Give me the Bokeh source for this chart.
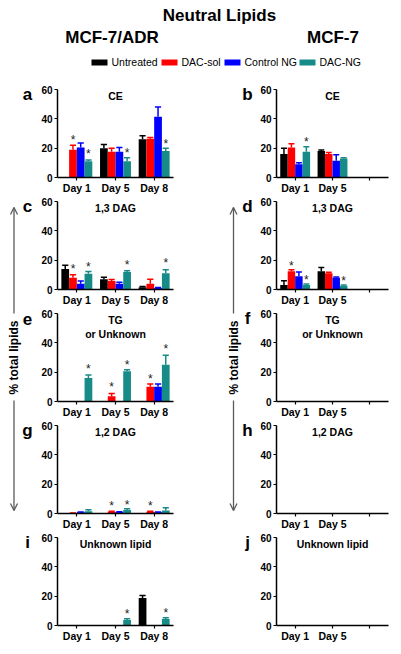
import math
from bokeh.plotting import figure
from bokeh.models import FactorRange, Range1d, FixedTicker, ColumnDataSource
from bokeh.transform import dodge
from bokeh.layouts import row, column
from bokeh.core.properties import value
from bokeh.embed import file_html
from bokeh.resources import INLINE

FONT = "Liberation Sans"

# ---------------- data ----------------
SERIES = ["Untreated", "DAC-sol", "Control NG", "DAC-NG"]
COLORS = ["#000000", "#FF0000", "#0000FF", "#178B87"]
DAYS_ADR = ["Day 1", "Day 5", "Day 8"]
DAYS_MCF7 = ["Day 1", "Day 5"]
Y_TICKS = [0, 20, 40, 60]
Y_LABEL = "% total lipids"

# rows = series (Untreated, DAC-sol, Control NG, DAC-NG), cols = days
CE_ADR_MEAN = [[0, 20, 26], [19, 17.5, 26.5], [20.5, 17.5, 41.5], [11, 11, 18]]
CE_ADR_ERR = [[0, 2.5, 2.5], [3, 2.5, 0.8], [3, 3, 6.5], [1, 2.5, 2]]
CE_ADR_STARS = [("DAC-sol", "Day 1", 30), ("DAC-NG", "Day 1", 20),
                ("DAC-NG", "Day 5", 21), ("DAC-NG", "Day 8", 27)]

CE_MCF7_MEAN = [[16, 18], [20.5, 16], [9, 11.5], [17.5, 13]]
CE_MCF7_ERR = [[4, 0.8], [2.5, 1], [1, 4], [3.5, 0.5]]
CE_MCF7_STARS = [("DAC-NG", "Day 1", 28)]

DAG13_ADR_MEAN = [[14, 7, 1.5], [8, 5.8, 4], [4, 4, 1], [10.7, 12, 11]]
DAG13_ADR_ERR = [[2.5, 1.3, 0.5], [2, 1, 3], [1.8, 1, 0.3], [1.5, 0.8, 2.5]]
DAG13_ADR_STARS = [("DAC-sol", "Day 1", 18), ("DAC-NG", "Day 1", 19.5),
                   ("DAC-NG", "Day 5", 20.5), ("DAC-NG", "Day 8", 22)]

DAG13_MCF7_MEAN = [[3, 12.5], [12.5, 11], [9, 8], [3, 2.5]]
DAG13_MCF7_ERR = [[3, 2.5], [1, 0.7], [3, 0.5], [0.8, 0.5]]
DAG13_MCF7_STARS = [("DAC-sol", "Day 1", 20), ("DAC-NG", "Day 1", 10.5),
                    ("DAC-NG", "Day 5", 10)]

TG_ADR_MEAN = [[0, 0, 0], [0, 3.6, 10], [0, 0, 10], [16, 20.6, 25]]
TG_ADR_ERR = [[0, 0, 0], [0, 1.8, 2], [0, 0, 2], [2, 1, 6.5]]
TG_ADR_STARS = [("DAC-NG", "Day 1", 26), ("DAC-sol", "Day 5", 13.8),
                ("DAC-NG", "Day 5", 29), ("DAC-sol", "Day 8", 19.5),
                ("DAC-NG", "Day 8", 40)]

TG_MCF7_MEAN = [[0, 0], [0, 0], [0, 0], [0, 0]]
TG_MCF7_ERR = [[0, 0], [0, 0], [0, 0], [0, 0]]
TG_MCF7_STARS = []

DAG12_ADR_MEAN = [[0, 0, 0], [0.3, 1.2, 1.2], [0.8, 1, 0.8], [1.5, 2.4, 2]]
DAG12_ADR_ERR = [[0, 0, 0], [0, 0.3, 0.3], [0.2, 0.2, 0.2], [1, 0.8, 2]]
DAG12_ADR_STARS = [("DAC-sol", "Day 5", 9), ("DAC-NG", "Day 5", 10),
                   ("DAC-sol", "Day 8", 9)]

DAG12_MCF7_MEAN = [[0, 0], [0, 0], [0, 0], [0, 0]]
DAG12_MCF7_ERR = [[0, 0], [0, 0], [0, 0], [0, 0]]
DAG12_MCF7_STARS = []

UNK_ADR_MEAN = [[0, 0, 18.7], [0, 0, 0], [0, 0, 0], [0, 3.8, 4.5]]
UNK_ADR_ERR = [[0, 0, 1.8], [0, 0, 0], [0, 0, 0], [0, 0.8, 0.8]]
UNK_ADR_STARS = [("DAC-NG", "Day 5", 12), ("DAC-NG", "Day 8", 12.5)]

UNK_MCF7_MEAN = [[0, 0], [0, 0], [0, 0], [0, 0]]
UNK_MCF7_ERR = [[0, 0], [0, 0], [0, 0], [0, 0]]
UNK_MCF7_STARS = []

TITLES = ["CE", "1,3 DAG", "TG\nor Unknown", "1,2 DAG", "Unknown lipid"]
LETTERS_LEFT = ["a", "c", "e", "g", "i"]
LETTERS_RIGHT = ["b", "d", "f", "h", "j"]

LEFT_DATA = [(CE_ADR_MEAN, CE_ADR_ERR, CE_ADR_STARS),
             (DAG13_ADR_MEAN, DAG13_ADR_ERR, DAG13_ADR_STARS),
             (TG_ADR_MEAN, TG_ADR_ERR, TG_ADR_STARS),
             (DAG12_ADR_MEAN, DAG12_ADR_ERR, DAG12_ADR_STARS),
             (UNK_ADR_MEAN, UNK_ADR_ERR, UNK_ADR_STARS)]
RIGHT_DATA = [(CE_MCF7_MEAN, CE_MCF7_ERR, CE_MCF7_STARS),
              (DAG13_MCF7_MEAN, DAG13_MCF7_ERR, DAG13_MCF7_STARS),
              (TG_MCF7_MEAN, TG_MCF7_ERR, TG_MCF7_STARS),
              (DAG12_MCF7_MEAN, DAG12_MCF7_ERR, DAG12_MCF7_STARS),
              (UNK_MCF7_MEAN, UNK_MCF7_ERR, UNK_MCF7_STARS)]

# ---------------- layout geometry ----------------
HEAD_H = 84
PANEL_H = 112
TOP_B, BOT_B = 5, 17
FRAME_H = PANEL_H - TOP_B - BOT_B
LSTRIP_W, LPANEL_W, L_LB, L_RB = 35, 190, 22, 52
RSTRIP_W, RPANEL_W, R_LB, R_RB = 30, 138, 21, 5
TOTAL_W = LSTRIP_W + LPANEL_W + RSTRIP_W + RPANEL_W
OFFSETS = [-0.3, -0.1, 0.1, 0.3]
BAR_W = 0.2
CAP_HALF = 0.08
GRAY = "#5a5a5a"


def px_to_data(px):
    return 60 - px * 60.0 / FRAME_H


def make_panel(days, cats, title, mean, err, stars, width, lb, rb):
    p = figure(width=width, height=PANEL_H, x_range=FactorRange(factors=cats),
               y_range=Range1d(0, 60), output_backend="svg", toolbar_location=None,
               min_border_left=lb, min_border_right=rb, min_border_top=TOP_B,
               min_border_bottom=BOT_B)
    p.outline_line_color = None
    p.xgrid.visible = False
    p.ygrid.visible = False

    for s, name in enumerate(SERIES):
        off = OFFSETS[s]
        col = COLORS[s]
        xs, tops, his = [], [], []
        for d, m, e in zip(days, mean[s], err[s]):
            if m > 0:
                xs.append(d)
                tops.append(m)
                his.append(m + e)
        if xs:
            src = ColumnDataSource(dict(day=xs, top=tops, hi=his))
            p.vbar(x=dodge("day", off, range=p.x_range), top="top", width=BAR_W,
                   source=src, fill_color=col, line_color=None)
            p.segment(x0=dodge("day", off, range=p.x_range), y0="top",
                      x1=dodge("day", off, range=p.x_range), y1="hi",
                      source=src, line_color=col, line_width=1.5)
            p.segment(x0=dodge("day", off - CAP_HALF, range=p.x_range), y0="hi",
                      x1=dodge("day", off + CAP_HALF, range=p.x_range), y1="hi",
                      source=src, line_color=col, line_width=1.5)
        sx = [d for (sn, d, y) in stars if sn == name]
        sy = [y for (sn, d, y) in stars if sn == name]
        if sx:
            ssrc = ColumnDataSource(dict(day=sx, y=sy, t=["*"] * len(sx)))
            p.text(x=dodge("day", off, range=p.x_range), y="y", text="t", source=ssrc,
                   text_font=value(FONT), text_font_size="12px", text_color="#222222",
                   text_align="center", text_baseline="alphabetic", y_offset=6)

    lines = title.split("\n")
    if len(lines) == 1:
        ys = [px_to_data(6.5)]
    else:
        ys = [px_to_data(7 + 14 * i) for i in range(len(lines))]
    p.text(x=["Day 5"] * len(lines), y=ys, text=lines, text_font=value(FONT),
           text_font_style="bold", text_font_size="10.5px", text_color="#000000",
           text_align="center", text_baseline="middle")

    yax = p.yaxis[0]
    yax.ticker = FixedTicker(ticks=Y_TICKS)
    yax.major_tick_in = 0
    yax.major_tick_out = 3
    yax.minor_tick_in = 0
    yax.minor_tick_out = 0
    yax.major_label_standoff = 2
    yax.axis_line_width = 1.5
    yax.major_tick_line_width = 1.2
    yax.major_label_text_font = FONT
    yax.major_label_text_font_style = "bold"
    yax.major_label_text_font_size = "10px"
    yax.major_label_text_color = "#000000"

    xax = p.xaxis[0]
    xax.major_tick_in = 0
    xax.major_tick_out = 3
    xax.major_label_standoff = 1
    xax.axis_line_width = 1.5
    xax.major_tick_line_width = 1.2
    xax.major_label_text_font = FONT
    xax.major_label_text_font_style = "bold"
    xax.major_label_text_font_size = "10.5px"
    xax.major_label_text_color = "#000000"
    return p


def make_strip(width, arrow_x, letters, letter_x):
    H = 5 * PANEL_H
    s = figure(width=width, height=H, x_range=Range1d(0, width), y_range=Range1d(H, 0),
               x_axis_type=None, y_axis_type=None, min_border=0,
               output_backend="svg", toolbar_location=None)
    s.outline_line_color = None
    s.grid.visible = False
    top_tip, upper_end, text_y, lower_start, bottom_tip = 123, 229, 273, 316, 426
    s.segment(x0=[arrow_x, arrow_x], y0=[top_tip, lower_start],
              x1=[arrow_x, arrow_x], y1=[upper_end, bottom_tip],
              line_color=GRAY, line_width=1.3)
    s.multi_line(xs=[[arrow_x - 3.5, arrow_x, arrow_x + 3.5]] * 2,
                 ys=[[top_tip + 7, top_tip, top_tip + 7],
                     [bottom_tip - 7, bottom_tip, bottom_tip - 7]],
                 line_color=GRAY, line_width=1.3)
    s.text(x=[arrow_x], y=[text_y], text=[Y_LABEL], angle=math.pi / 2,
           text_font=value(FONT), text_font_style="bold", text_font_size="12px",
           text_color="#000000", text_align="center", text_baseline="middle")
    frame_tops = [i * PANEL_H + TOP_B for i in range(5)]
    s.text(x=[letter_x] * 5, y=[t + 5 for t in frame_tops], text=letters,
           text_font=value(FONT), text_font_style="bold", text_font_size="17px",
           text_color="#000000", text_align="center", text_baseline="alphabetic")
    return s


# header
h = figure(width=TOTAL_W, height=HEAD_H, x_range=Range1d(0, TOTAL_W),
           y_range=Range1d(HEAD_H, 0), x_axis_type=None, y_axis_type=None,
           min_border=0, output_backend="svg", toolbar_location=None)
h.outline_line_color = None
h.grid.visible = False
h.text(x=[219], y=[15], text=["Neutral Lipids"], text_font=value(FONT),
       text_font_style="bold", text_font_size="17px", text_color="#000000",
       text_align="center", text_baseline="middle")
h.text(x=[111.5, 332.5], y=[36.5, 36.5], text=["MCF-7/ADR", "MCF-7"],
       text_font=value(FONT), text_font_style="bold", text_font_size="17px",
       text_color="#000000", text_align="center", text_baseline="middle")
LEG_X = [91, 161, 224, 299]
h.rect(x=[lx + 8 for lx in LEG_X], y=[62] * 4, width=16, height=6,
       fill_color=COLORS, line_color=None)
h.text(x=[lx + 20 for lx in LEG_X], y=[61] * 4, text=SERIES, text_font=value(FONT),
       text_font_size="10.5px", text_color="#000000", text_align="left",
       text_baseline="middle")

left_panels = [make_panel(DAYS_ADR, DAYS_ADR, TITLES[i], *LEFT_DATA[i],
                          width=LPANEL_W, lb=L_LB, rb=L_RB) for i in range(5)]
right_cats = DAYS_MCF7 + [" "]
right_panels = [make_panel(DAYS_MCF7, right_cats, TITLES[i], *RIGHT_DATA[i],
                           width=RPANEL_W, lb=R_LB, rb=R_RB) for i in range(5)]

lstrip = make_strip(LSTRIP_W, 13.5, LETTERS_LEFT, 27)
rstrip = make_strip(RSTRIP_W, 8, LETTERS_RIGHT, 22)

layout = column(h, row(lstrip, column(*left_panels), rstrip, column(*right_panels)))

open("out.html", "w").write(file_html(layout, INLINE))
